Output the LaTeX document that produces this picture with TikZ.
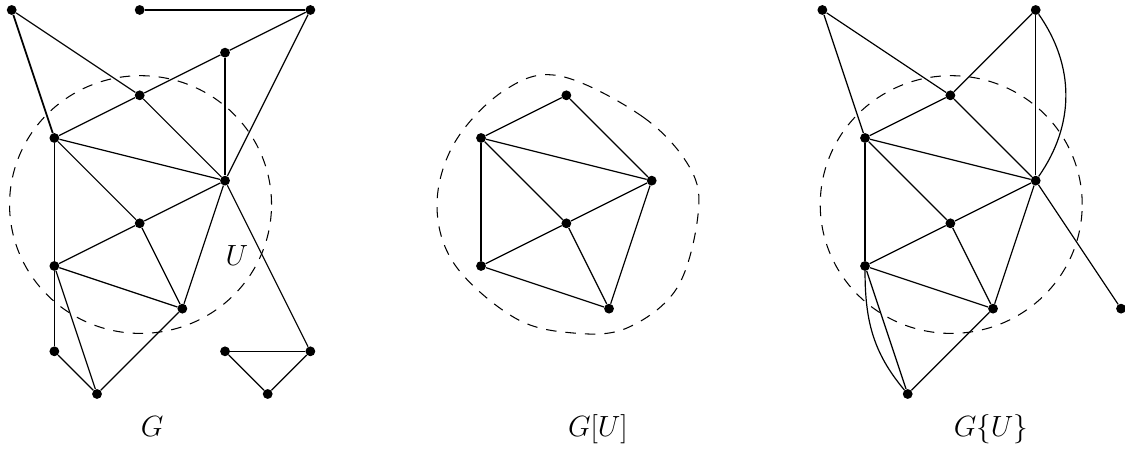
\documentclass[tikz,border=0pt]{standalone}
\begin{document}
\begin{tikzpicture}[
  v/.style={circle, fill=black, inner sep=0pt, minimum size=2.3mm},
  e/.style={line width=0.8pt},
  ethick/.style={line width=1.15pt},
  region/.style={line width=0.7pt, dash pattern=on 7pt off 6pt},
  lab/.style={font=\huge, scale=0.94, anchor=base, inner sep=0pt}
]
\useasboundingbox (-0.274,0.234) rectangle (26.093,-10.313);

% ---------- G ----------
\draw[region] (3.02,-4.56) ellipse [x radius=3.07, y radius=3.02];
\node[v] (A1) at (0,0) {};
\node[v] (A2) at (3,0) {};
\node[v] (A3) at (7,0) {};
\node[v] (A4) at (5,-1) {};
\node[v] (A5) at (3,-2) {};
\node[v] (A6) at (1,-3) {};
\node[v] (A7) at (5,-4) {};
\node[v] (A8) at (3,-5) {};
\node[v] (A9) at (1,-6) {};
\node[v] (A10) at (4,-7) {};
\node[v] (A11) at (1,-8) {};
\node[v] (A12) at (2,-9) {};
\node[v] (A13) at (5,-8) {};
\node[v] (A14) at (7,-8) {};
\node[v] (A15) at (6,-9) {};
\draw[ethick] (A1) -- (A6);
\draw[e] (A2) -- (A3);
\draw[e] (A1) -- (A5);
\draw[e] (A5) -- (A7);
\draw[e] (A6) -- (A5);
\draw[e] (A5) -- (A4);
\draw[e] (A4) -- (A3);
\draw[e] (A4) -- (A7);
\draw[e] (A3) -- (A7);
\draw[e] (A6) -- (A7);
\draw[e] (A6) -- (A8);
\draw[e] (A6) -- (A9);
\draw[e] (A8) -- (A7);
\draw[e] (A8) -- (A9);
\draw[e] (A8) -- (A10);
\draw[e] (A7) -- (A10);
\draw[e] (A9) -- (A10);
\draw[e] (A9) -- (A11);
\draw[e] (A9) -- (A12);
\draw[e] (A11) -- (A12);
\draw[e] (A12) -- (A10);
\draw[e] (A7) -- (A14);
\draw[e] (A13) -- (A14);
\draw[e] (A13) -- (A15);
\draw[e] (A14) -- (A15);
\node[lab] (LU) at (5.28,-6.0) {$U$};
\node[lab] (LG) at (3.29,-10.0) {$G$};

% ---------- G[U] ----------
\draw[region] plot[smooth cycle, tension=0.6] coordinates {
  (12.851,-1.547) (14.796,-2.508) (15.898,-3.703) (16.085,-4.805)
  (15.593,-6.516) (14.421,-7.453) (13.155,-7.570) (11.796,-7.219)
  (10.390,-5.977) (9.968,-4.570) (10.390,-3.094) (11.562,-1.875)};
\node[v] (M5) at (13,-2) {};
\node[v] (M6) at (11,-3) {};
\node[v] (M7) at (15,-4) {};
\node[v] (M8) at (13,-5) {};
\node[v] (M9) at (11,-6) {};
\node[v] (M10) at (14,-7) {};
\draw[e] (M5) -- (M6);
\draw[e] (M5) -- (M7);
\draw[e] (M6) -- (M7);
\draw[e] (M6) -- (M8);
\draw[e] (M6) -- (M9);
\draw[e] (M8) -- (M7);
\draw[e] (M8) -- (M9);
\draw[e] (M8) -- (M10);
\draw[e] (M7) -- (M10);
\draw[e] (M9) -- (M10);
\node[lab] (LGU) at (13.74,-10.0) {$G[U]$};

% ---------- G{U} ----------
\draw[region] (22.02,-4.56) ellipse [x radius=3.07, y radius=3.02];
\node[v] (B1) at (19,0) {};
\node[v] (B3) at (24,0) {};
\node[v] (B5) at (22,-2) {};
\node[v] (B6) at (20,-3) {};
\node[v] (B7) at (24,-4) {};
\node[v] (B8) at (22,-5) {};
\node[v] (B9) at (20,-6) {};
\node[v] (B10) at (23,-7) {};
\node[v] (B12) at (21,-9) {};
\node[v] (B14) at (26,-7) {};
\draw[e] (B1) -- (B5);
\draw[e] (B1) -- (B6);
\draw[e] (B3) -- (B5);
\draw[e] (B3) -- (B7);
\draw[e] (B3) to[bend left=35] (B7);
\draw[e] (B5) -- (B6);
\draw[e] (B5) -- (B7);
\draw[e] (B6) -- (B7);
\draw[e] (B6) -- (B8);
\draw[e] (B6) -- (B9);
\draw[e] (B8) -- (B7);
\draw[e] (B8) -- (B9);
\draw[e] (B8) -- (B10);
\draw[e] (B7) -- (B10);
\draw[e] (B9) -- (B10);
\draw[e] (B9) -- (B12);
\draw[e] (B9) to[out=-90, in=130] (B12);
\draw[e] (B12) -- (B10);
\draw[e] (B7) -- (B14);
\node[lab] (LGbU) at (22.95,-10.0) {$G\{U\}$};
\end{tikzpicture}
\end{document}
